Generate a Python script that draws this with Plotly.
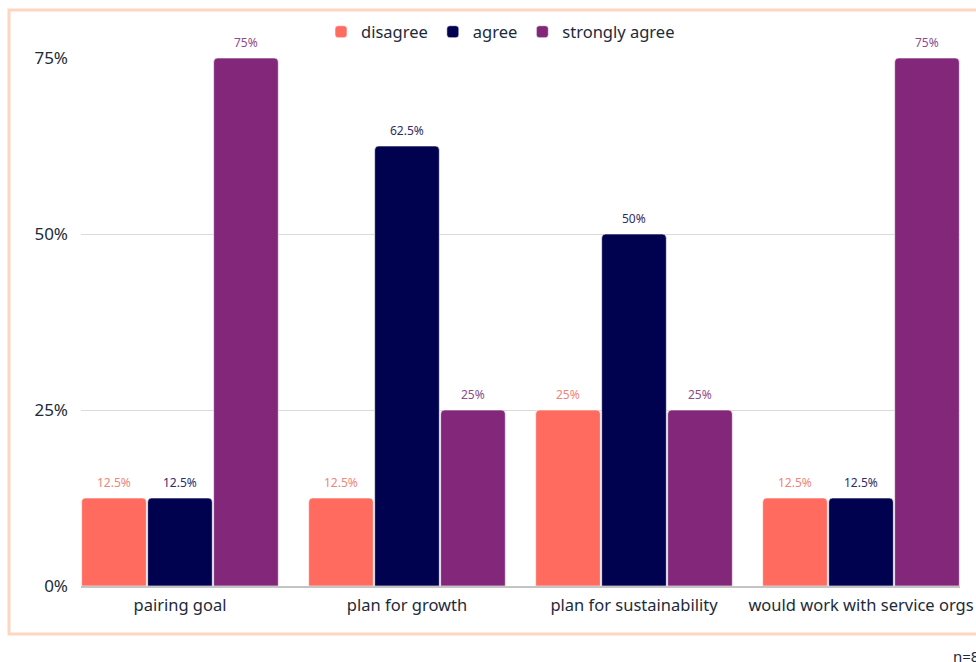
import plotly.graph_objects as go

categories = ["pairing goal", "plan for growth", "plan for sustainability", "would work with service orgs"]
disagree = [12.5, 12.5, 25, 12.5]
agree = [12.5, 62.5, 50, 12.5]
strongly_agree = [75, 25, 25, 75]
series_names = ["disagree", "agree", "strongly agree"]
y_ticks = [0, 25, 50, 75]
y_tick_labels = ["0%", "25%", "50%", "75%"]
note = "n=8"

colors = ["#FF6B5E", "#01024F", "#82277A"]
text_colors = ["#F0857A", "#2E2C6B", "#8E4C8A"]
FONT = "Noto Sans"

w = 0.872
fig = go.Figure()
annotations = []
for i, (name, vals, c, tc) in enumerate(zip(series_names, [disagree, agree, strongly_agree], colors, text_colors)):
    fig.add_trace(go.Bar(
        name=name, x=list(range(len(categories))), y=vals,
        marker=dict(color=c, line=dict(color="rgba(255,255,255,0.6)", width=1)),
        hoverinfo="skip",
    ))
    for j, v in enumerate(vals):
        annotations.append(dict(
            x=j + (i - 1) * w / 3, y=v, xref="x", yref="y", text=f"{v:g}%",
            showarrow=False, yanchor="middle", yshift=16,
            font=dict(color=tc, size=12, family=FONT),
        ))

annotations.append(dict(text=note, xref="paper", yref="paper", x=(951 - 81) / 879, y=(586 - 656) / 528,
                        xanchor="left", yanchor="middle", showarrow=False,
                        font=dict(size=15, family=FONT, color="#1C2B3A")))

fig.update_layout(
    width=976, height=662,
    margin=dict(l=81, r=16, t=58, b=76, autoexpand=False),
    paper_bgcolor="white", plot_bgcolor="white",
    barmode="group", bargap=1 - w, bargroupgap=0.02, barcornerradius=4,
    font=dict(family=FONT, color="#1C2B3A"),
    legend=dict(orientation="h", x=0.5 - 20 / 879, xanchor="center", y=1.0 + (58 - 32) / 528, yanchor="middle",
                font=dict(size=16.5, family=FONT, color="#1C2B3A"), itemwidth=30, traceorder="normal"),
    showlegend=True,
    xaxis=dict(range=[-w / 2, 3 + w / 2], tickvals=list(range(len(categories))), ticktext=categories,
               automargin=False,
               showgrid=False, showline=True, linecolor="#C4C4C4", linewidth=2, zeroline=False,
               tickfont=dict(size=16.5, family=FONT, color="#1C2B3A"), ticks="", ticklabelstandoff=3),
    yaxis=dict(range=[0, 75], tickvals=y_ticks, ticktext=y_tick_labels, showgrid=True, gridcolor="#DADADA",
               gridwidth=1, zeroline=False, showline=False, automargin=False,
               tickfont=dict(size=17, family=FONT, color="#1C2B3A"), ticklabelstandoff=12),
    shapes=[dict(type="rect", xref="paper", yref="paper",
                 x0=(9 - 81) / 879, x1=1.06, y0=(586 - 634) / 528, y1=(586 - 10) / 528,
                 line=dict(color="#FFD5C2", width=3), fillcolor="rgba(0,0,0,0)", layer="below")],
    annotations=annotations,
)

fig.write_html("out.html")
